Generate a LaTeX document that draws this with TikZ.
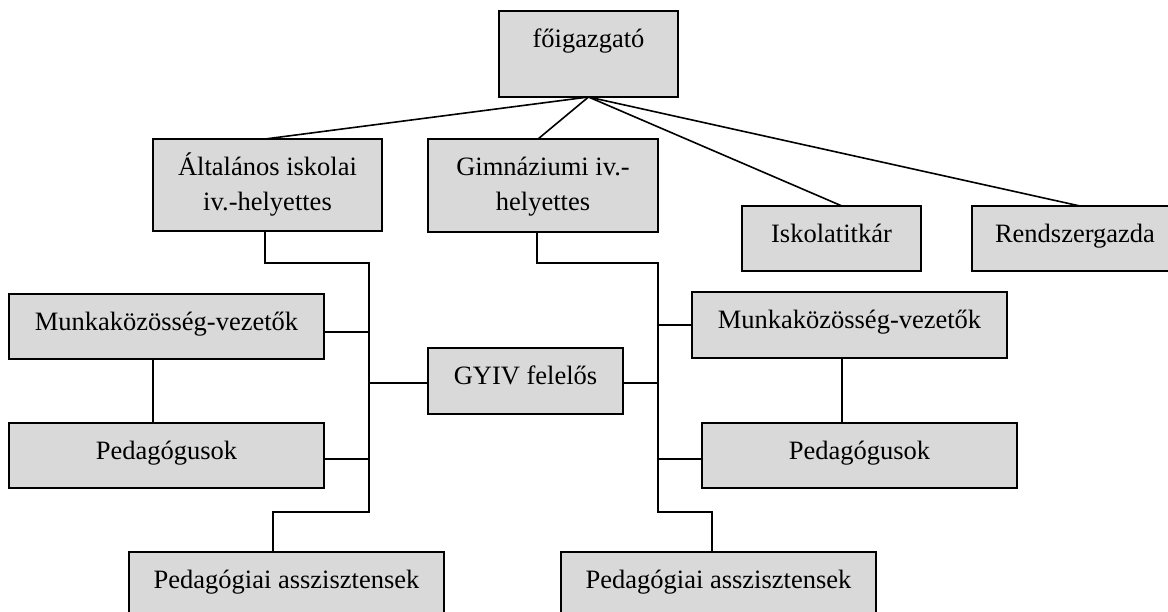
\documentclass[tikz,border=0pt]{standalone}
\usepackage{fontspec}
\setmainfont{Liberation Serif}
\definecolor{boxgray}{RGB}{217,217,217}
\tikzset{
  orgbox/.style={draw, line width=2pt, fill=boxgray, inner sep=0pt, outer sep=0pt,
    anchor=north west, align=center, text height=36pt},
  conn/.style={line width=1.6pt}
}
\newcommand{\twoline}[2]{\begin{tabular}[t]{@{}c@{}}#1\\#2\end{tabular}}
\begin{document}
\begin{tikzpicture}[x=1pt,y=-1pt,font=\fontsize{26.5}{35}\selectfont]
\useasboundingbox (0,0) rectangle (1168,611);
% boxes
\node[orgbox, minimum width=179pt, minimum height=86pt, text depth=50pt] (F) at (499,11) {főigazgató};
\node[orgbox, minimum width=229pt, minimum height=92pt, text depth=56pt] (A) at (153,139) {\twoline{Általános iskolai}{iv.-helyettes}};
\node[orgbox, minimum width=230pt, minimum height=93pt, text depth=57pt] (G) at (428,139) {\twoline{Gimnáziumi iv.-}{helyettes}};
\node[orgbox, minimum width=179pt, minimum height=65pt, text depth=29pt] (I) at (742,206) {Iskolatitkár};
\node[orgbox, minimum width=206pt, minimum height=65pt, text depth=29pt] (R) at (972,206) {Rendszergazda};
\node[orgbox, minimum width=315pt, minimum height=65pt, text depth=29pt] (ML) at (9,294) {Munkaközösség-vezetők};
\node[orgbox, minimum width=195pt, minimum height=66pt, text depth=30pt] (GY) at (428,348) {GYIV felelős};
\node[orgbox, minimum width=315pt, minimum height=66pt, text depth=30pt] (MR) at (692,292) {Munkaközösség-vezetők};
\node[orgbox, minimum width=315pt, minimum height=65pt, text depth=29pt] (PL) at (9,423) {Pedagógusok};
\node[orgbox, minimum width=315pt, minimum height=65pt, text depth=29pt] (PR) at (702,423) {Pedagógusok};
\node[orgbox, minimum width=315pt, minimum height=66pt, text depth=30pt] (AL) at (129,552) {Pedagógiai asszisztensek};
\node[orgbox, minimum width=315pt, minimum height=66pt, text depth=30pt] (AR) at (561,552) {Pedagógiai asszisztensek};
% bus coordinates
\coordinate (lt) at (369,263);
\coordinate (lb) at (369,512);
\coordinate (rt) at (658,263);
\coordinate (rb) at (658,512);
% top-level connectors
\draw[conn] (F.south) -- ([xshift=-2.5pt]A.north);
\draw[conn] (F.south) -- ([xshift=-5pt]G.north);
\draw[conn] (F.south) -- ([xshift=10.5pt]I.north);
\draw[conn] (F.south) -- ([xshift=5pt]R.north);
% left tree
\draw[conn] ([xshift=-2.5pt]A.south) |- (lt) -- (lb) -| ([xshift=-13.5pt]AL.north);
\coordinate (mlE) at ([yshift=-5.5pt]ML.east);
\draw[conn] (mlE) -- (mlE -| lt);
\coordinate (gyW) at ([yshift=-2pt]GY.west);
\draw[conn] (gyW) -- (gyW -| lt);
\coordinate (plE) at ([yshift=-3.5pt]PL.east);
\draw[conn] (plE) -- (plE -| lt);
\coordinate (mlS) at ([xshift=-13.5pt]ML.south);
\draw[conn] (mlS) -- (mlS |- PL.north);
% right tree
\draw[conn] ([xshift=-6pt]G.south) |- (rt) -- (rb) -| ([xshift=-6.5pt]AR.north);
\draw[conn] (MR.west) -- (MR.west -| rt);
\coordinate (gyE) at ([yshift=-2pt]GY.east);
\draw[conn] (gyE) -- (gyE -| rt);
\coordinate (prW) at ([yshift=-3.5pt]PR.west);
\draw[conn] (prW) -- (prW -| rt);
\coordinate (mrS) at ([xshift=-7.5pt]MR.south);
\draw[conn] (mrS) -- (mrS |- PR.north);
\end{tikzpicture}
\end{document}
